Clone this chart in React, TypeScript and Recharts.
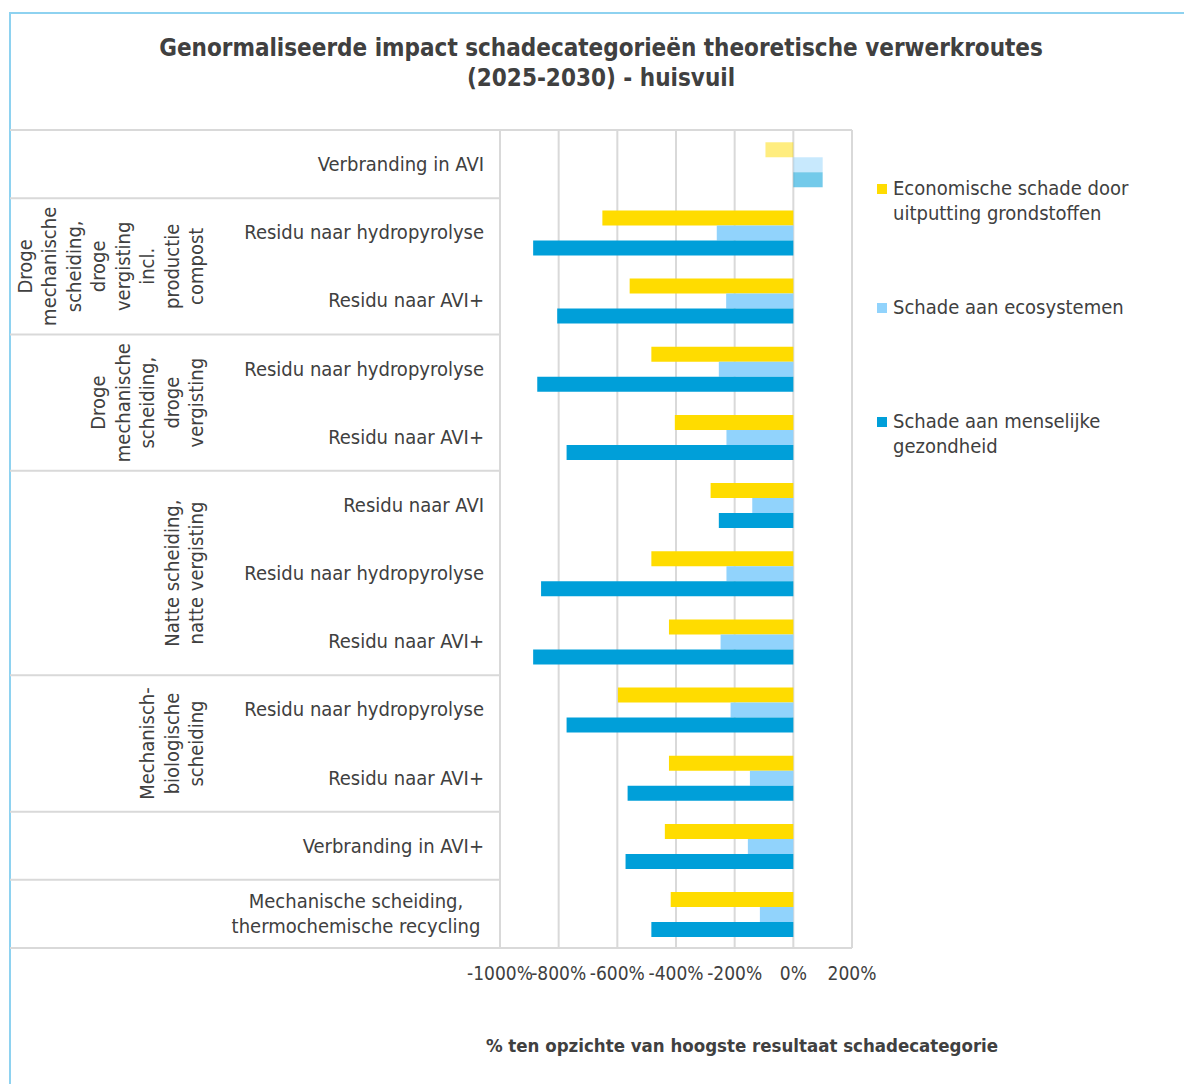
import React from 'react';
import {
  Bar,
  BarChart,
  CartesianGrid,
  Cell,
  XAxis,
  YAxis,
} from 'recharts';

// verwerkroutes (top to bottom)
const routes = [
  'Verbranding in AVI',
  'Residu naar hydropyrolyse',
  'Residu naar AVI+',
  'Residu naar hydropyrolyse',
  'Residu naar AVI+',
  'Residu naar AVI',
  'Residu naar hydropyrolyse',
  'Residu naar AVI+',
  'Residu naar hydropyrolyse',
  'Residu naar AVI+',
  'Verbranding in AVI+',
  'Mechanische scheiding,\nthermochemische recycling',
];

// which group each route belongs to
const routeGroup = [0, 1, 1, 2, 2, 3, 3, 3, 4, 4, 5, 6];

const groupLabels = [
  [],
  ['Droge', 'mechanische', 'scheiding,', 'droge', 'vergisting', 'incl.', 'productie', 'compost'],
  ['Droge', 'mechanische', 'scheiding,', 'droge', 'vergisting'],
  ['Natte scheiding,', 'natte vergisting'],
  ['Mechanisch-', 'biologische', 'scheiding'],
  [],
  [],
];

const economisch = [-95, -651, -558, -484, -404, -282, -484, -424, -598, -424, -438, -418];
const ecosystemen = [100, -261, -229, -254, -228, -140, -228, -248, -214, -148, -155, -114];
const gezondheid = [100, -887, -805, -873, -773, -254, -860, -887, -773, -565, -572, -484];

const xTicks = [-1000, -800, -600, -400, -200, 0, 200];

const seriesNames = [
  'Economische schade door\nuitputting grondstoffen',
  'Schade aan ecosystemen',
  'Schade aan menselijke\ngezondheid',
];
const colors = ['#FFDC00', '#91D3FC', '#009FD9'];

const data = routes.map((r, i) => ({
  id: 'r' + i,
  economisch: economisch[i],
  ecosystemen: ecosystemen[i],
  gezondheid: gezondheid[i],
}));

const W = 1184;
const H = 1084;
const TOP = 130;
const BOTTOM = 948;
const LEFT = 10;
const PLOT_LEFT = 500;
const PLOT_RIGHT = 852;
const FONT = '"DejaVu Sans Condensed", "DejaVu Sans", sans-serif';
const TXT = '#404040';
const band = (BOTTOM - TOP) / routes.length;

const RouteTick = (props: any) => {
  const { y, index } = props;
  const label = routes[index] || '';
  const lines = label.split('\n');
  const g = routeGroup[index];
  const first = index === 0 || routeGroup[index - 1] !== g;
  const last = index === routes.length - 1;
  const count = routeGroup.filter((v) => v === g).length;
  const gl = groupLabels[g];
  const top = y - band / 2;
  return (
    <g>
      {first && (
        <line x1={LEFT} x2={index === 0 ? PLOT_RIGHT : PLOT_LEFT} y1={top} y2={top} stroke="#D9D9D9" strokeWidth={2} />
      )}
      {last && (
        <line x1={LEFT} x2={PLOT_LEFT} y1={top + band} y2={top + band} stroke="#D9D9D9" strokeWidth={2} />
      )}
      {lines.length === 1 ? (
        <text x={484} y={y + 7} textAnchor="end" fontSize={20} fill={TXT} fontFamily={FONT}>
          {label}
        </text>
      ) : (
        <text x={356} y={y - 6} textAnchor="middle" fontSize={20} fill={TXT} fontFamily={FONT}>
          {lines.map((l, i) => (
            <tspan key={i} x={356} dy={i === 0 ? 0 : 25}>
              {l}
            </tspan>
          ))}
        </text>
      )}
      {first && gl.length > 0 && (
        <text
          transform={`translate(0, ${top + (count * band) / 2}) rotate(-90)`}
          textAnchor="middle"
          fontSize={20}
          fill={TXT}
          fontFamily={FONT}
        >
          {gl.map((l, i) => (
            <tspan key={i} x={0} y={203 - (gl.length - 1 - i) * 24.5}>
              {l}
            </tspan>
          ))}
        </text>
      )}
    </g>
  );
};

const LegendBox = () => {
  const tops = [176, 295, 409];
  return (
    <div style={{ position: 'absolute', left: 877, top: 0, fontFamily: FONT, fontSize: 20, color: TXT }}>
      {seriesNames.map((name, i) => (
        <div key={i} style={{ position: 'absolute', left: 0, top: tops[i], display: 'flex', width: 300 }}>
          <div style={{ width: 10, height: 10, background: colors[i], marginTop: 8, marginRight: 6, flex: 'none' }} />
          <div style={{ lineHeight: '25px', whiteSpace: 'pre' }}>{name}</div>
        </div>
      ))}
    </div>
  );
};

const App = () => {
  return (
    <div style={{ position: 'absolute', left: 0, top: 0, width: W, height: H, background: '#fff', overflow: 'hidden' }}>
      <div style={{ position: 'absolute', left: 9, top: 12, width: W, height: 2, background: '#8ED2F0' }} />
      <div style={{ position: 'absolute', left: 9, top: 12, width: 2, height: H, background: '#8ED2F0' }} />
      <div
        style={{
          position: 'absolute',
          left: 0,
          top: 33,
          width: 1202,
          textAlign: 'center',
          fontFamily: FONT,
          fontWeight: 'bold',
          fontSize: 24,
          lineHeight: '30px',
          color: TXT,
        }}
      >
        Genormaliseerde impact schadecategorieën theoretische verwerkroutes
        <br />
        (2025-2030) - huisvuil
      </div>
      <BarChart
        width={W}
        height={H}
        data={data}
        layout="vertical"
        barCategoryGap="18%"
        barGap={0}
        margin={{ top: TOP, bottom: 0, left: LEFT, right: W - PLOT_RIGHT }}
      >
        <CartesianGrid
          stroke="#D9D9D9"
          strokeWidth={2}
          horizontalCoordinatesGenerator={({ offset }: any) => [offset.top, offset.top + offset.height]}
        />
        <XAxis
          type="number"
          domain={[-1000, 200]}
          ticks={xTicks}
          interval={0}
          axisLine={false}
          tickLine={false}
          tickMargin={13}
          tickFormatter={(v) => `${v}%`}
          tick={{ fontSize: 19, fill: TXT, fontFamily: FONT }}
          height={H - BOTTOM}
          label={{
            value: '% ten opzichte van hoogste resultaat schadecategorie',
            position: 'insideBottom',
            offset: 32,
            dx: 66,
            fontSize: 18.5,
            fontWeight: 'bold',
            fill: TXT,
            fontFamily: FONT,
          }}
        />
        <YAxis type="category" dataKey="id" width={PLOT_LEFT - LEFT} axisLine={false} tickLine={false} tick={<RouteTick />} interval={0} />
        <Bar dataKey="economisch" name={seriesNames[0]} fill={colors[0]} isAnimationActive={false}>
          {data.map((d, i) => (
            <Cell key={i} fillOpacity={i === 0 ? 0.5 : 1} />
          ))}
        </Bar>
        <Bar dataKey="ecosystemen" name={seriesNames[1]} fill={colors[1]} isAnimationActive={false}>
          {data.map((d, i) => (
            <Cell key={i} fillOpacity={i === 0 ? 0.5 : 1} />
          ))}
        </Bar>
        <Bar dataKey="gezondheid" name={seriesNames[2]} fill={colors[2]} isAnimationActive={false}>
          {data.map((d, i) => (
            <Cell key={i} fillOpacity={i === 0 ? 0.55 : 1} />
          ))}
        </Bar>
      </BarChart>
      <LegendBox />
    </div>
  );
};

export default App;
